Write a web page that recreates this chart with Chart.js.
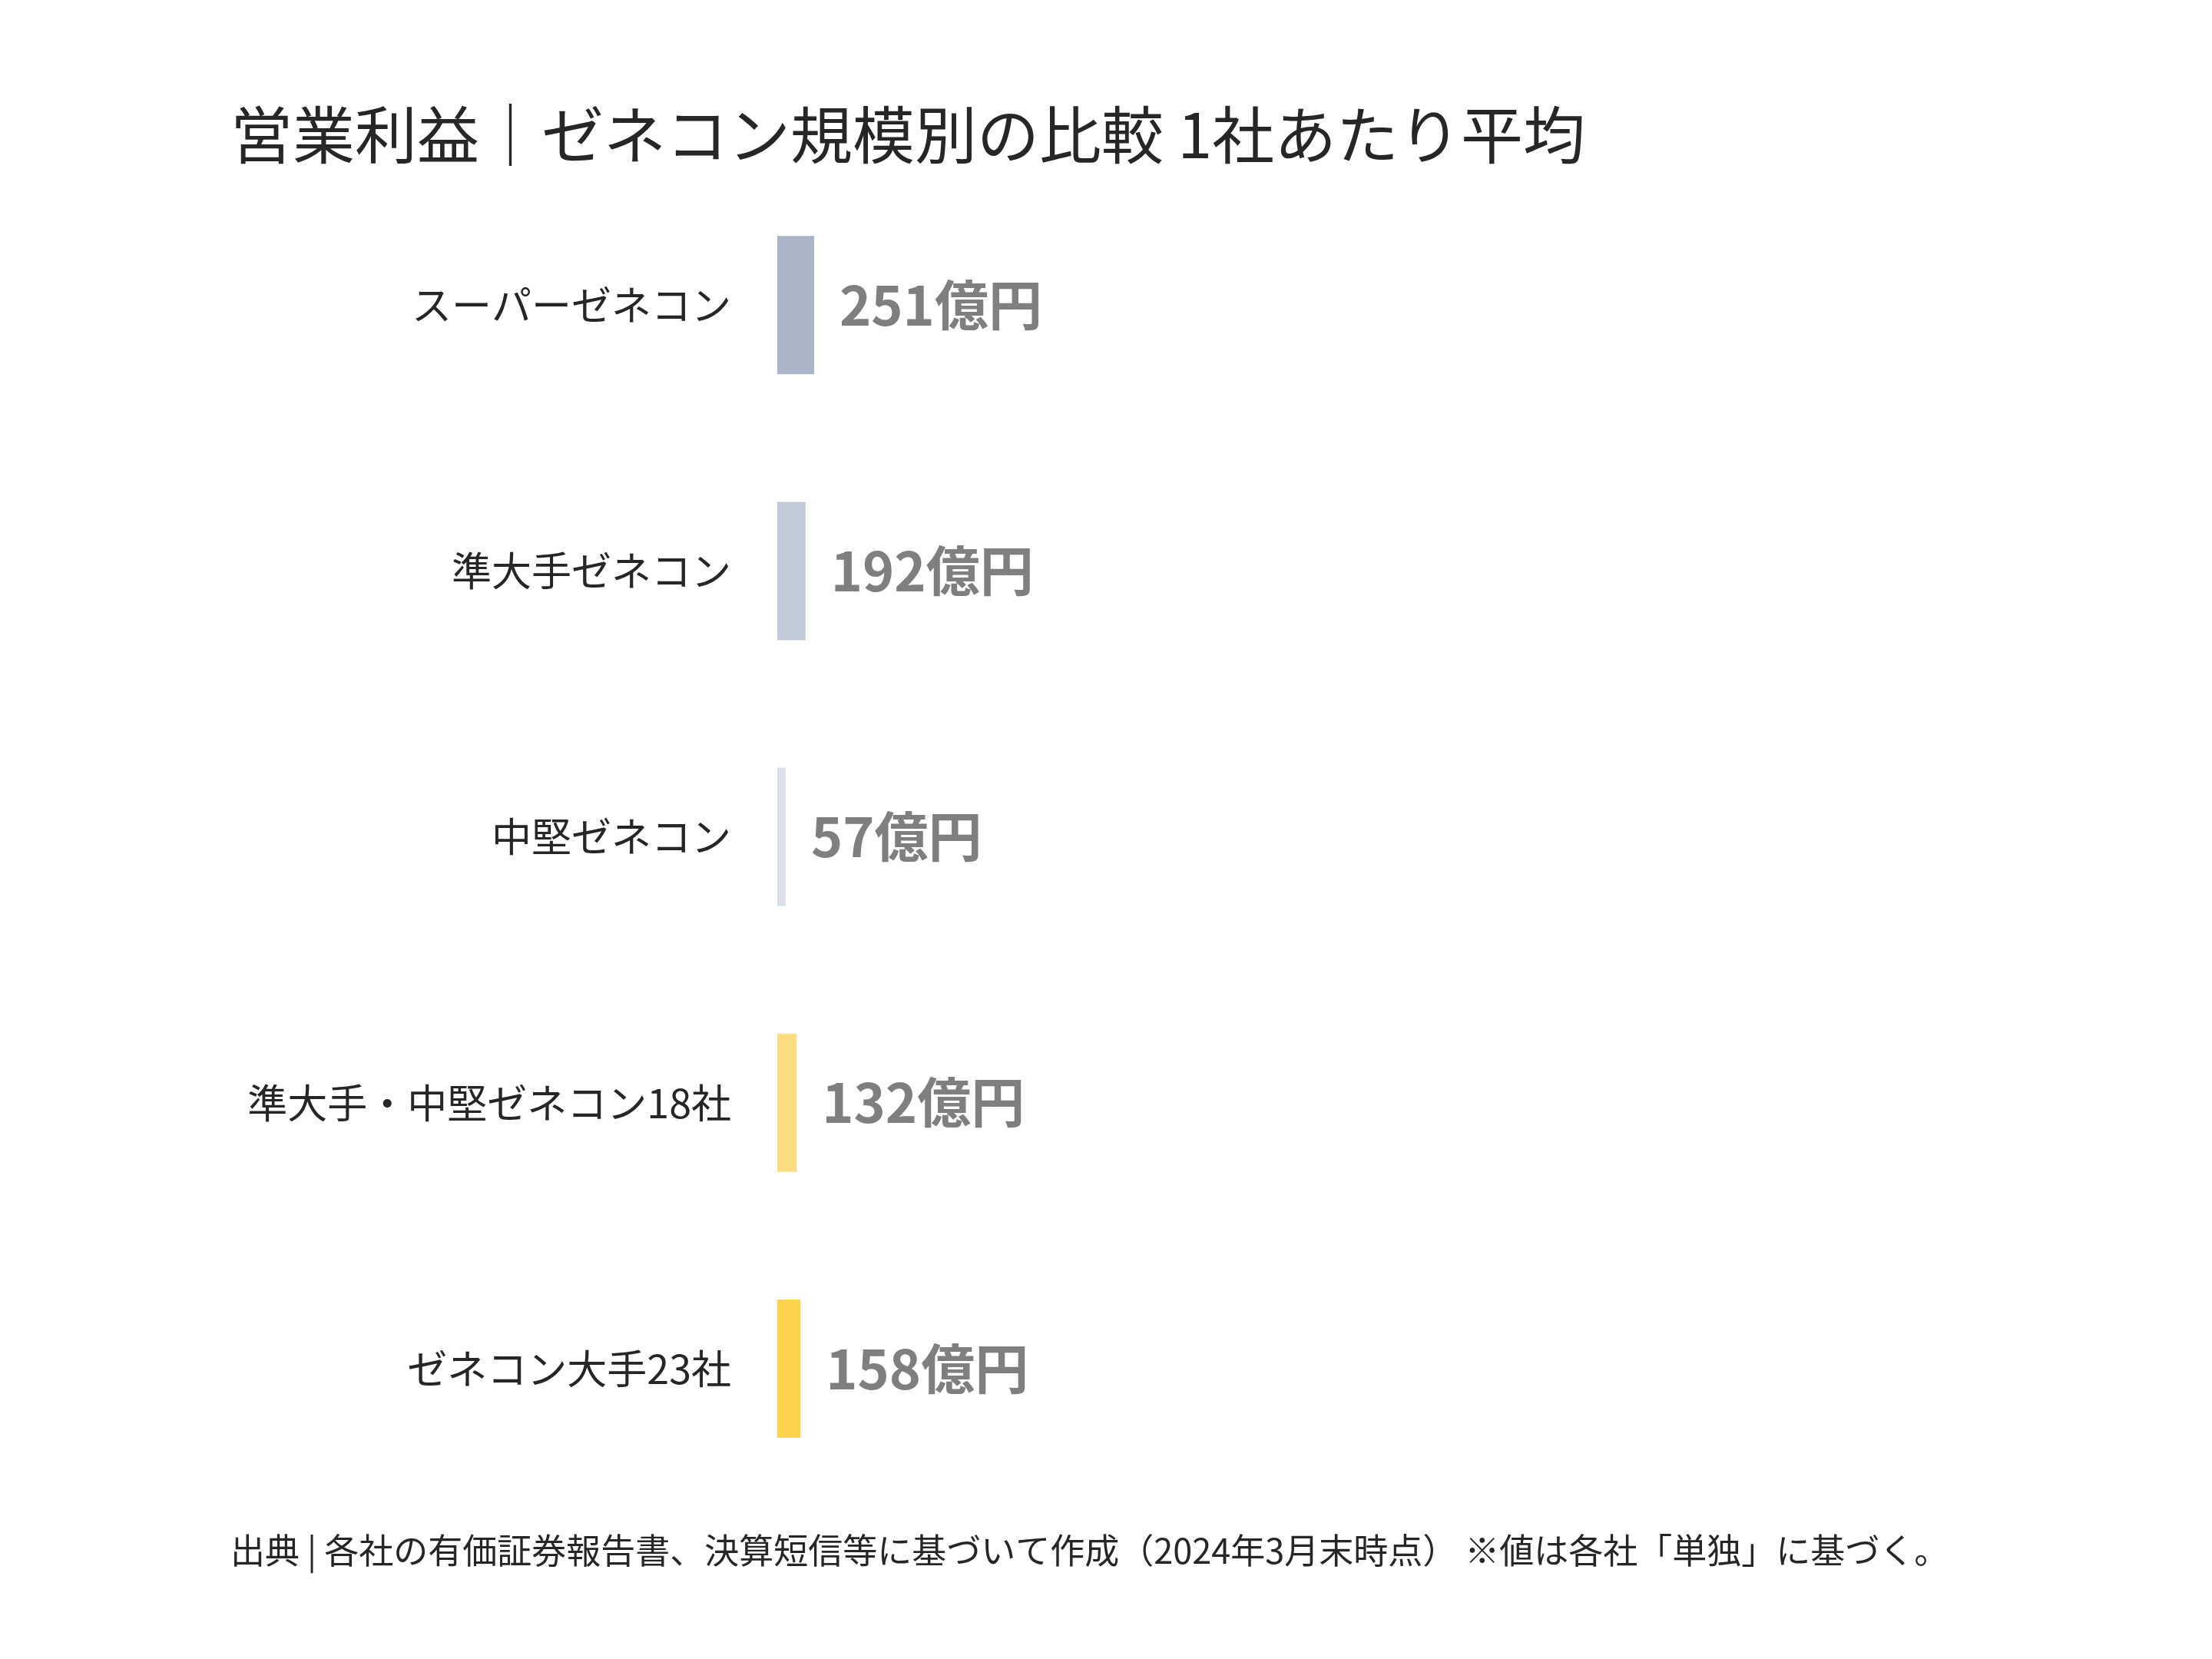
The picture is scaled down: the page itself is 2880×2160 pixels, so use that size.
<!DOCTYPE html>
<html>
<head>
<meta charset="utf-8">
<script src="https://cdn.jsdelivr.net/npm/chart.js@4"></script>
<style>
  html, body { margin: 0; padding: 0; background: #ffffff; }
  canvas { display: block; }
</style>
</head>
<body>
<canvas id="chart" width="2880" height="2160"></canvas>
<script>
let categories = ['スーパーゼネコン', '準大手ゼネコン', '中堅ゼネコン', '準大手・中堅ゼネコン18社', 'ゼネコン大手23社'];
let profits = [251, 192, 57, 132, 158];
let unit = '億円';
let barColors = ['#aab6c7', '#c1cbd8', '#d9e0e8', '#fedd82', '#fdd24c'];

let titleText = '営業利益｜ゼネコン規模別の比較 1社あたり平均';
let sourceText = '出典 | 各社の有価証券報告書、決算短信等に基づいて作成（2024年3月末時点） ※値は各社「単独」に基づく。';

let jpFont = '"Noto Sans CJK JP", "Noto Sans", sans-serif';

// value labels right after each bar
let valueLabels = {
  id: 'valueLabels',
  afterDatasetsDraw(chart) {
    let c = chart.ctx;
    let meta = chart.getDatasetMeta(0);
    c.save();
    c.font = 'bold 70px ' + jpFont;
    c.fillStyle = '#7f7f7f';
    c.textAlign = 'left';
    c.textBaseline = 'middle';
    meta.data.forEach((bar, i) => {
      c.fillText(profits[i] + unit, bar.x + 33, bar.y);
    });
    c.restore();
  }
};

let ctx = document.getElementById('chart').getContext('2d');

let chart = new Chart(ctx, {
  type: 'bar',
  data: {
    labels: categories,
    datasets: [{
      data: profits,
      backgroundColor: barColors,
      borderWidth: 0,
      barPercentage: 0.52,
      categoryPercentage: 1.0
    }]
  },
  options: {
    indexAxis: 'y',
    animation: false,
    responsive: false,
    devicePixelRatio: 1,
    layout: { padding: { left: 300, right: 146, top: 0, bottom: 0 } },
    plugins: {
      legend: { display: false },
      tooltip: { enabled: false },
      title: {
        display: true,
        text: titleText,
        align: 'start',
        color: '#262626',
        font: { family: jpFont, size: 81, weight: 'normal' },
        padding: { top: 127, bottom: 0 }
      },
      subtitle: {
        display: true,
        position: 'bottom',
        text: sourceText,
        align: 'start',
        color: '#262626',
        font: { family: jpFont, size: 45, weight: 'normal' },
        padding: { top: 37, bottom: 114 }
      }
    },
    scales: {
      x: { display: false, min: 0, max: 9000 },
      y: {
        grid: { display: false },
        border: { display: false },
        ticks: {
          color: '#262626',
          font: { family: jpFont, size: 52 },
          padding: 52
        },
        afterFit(scale) { scale.width = 712; }
      }
    }
  },
  plugins: [valueLabels]
});
</script>
</body>
</html>
